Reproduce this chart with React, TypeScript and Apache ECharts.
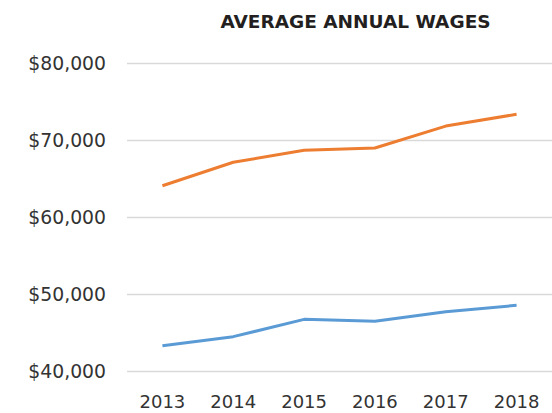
import React, { useEffect, useRef } from "react";
import * as echarts from "echarts";

const years = ["2013", "2014", "2015", "2016", "2017", "2018"];
const seriesOrange = [64150, 67200, 68750, 69050, 71900, 73430];
const seriesBlue = [43380, 44550, 46800, 46540, 47800, 48620];
const titleText = "AVERAGE ANNUAL WAGES";

export default function App() {
  const ref = useRef<HTMLDivElement>(null);
  useEffect(() => {
    document.body.style.margin = "0";
    const chart = echarts.init(ref.current!, null, { renderer: "svg" });
    const font = "'DejaVu Sans', sans-serif";
    chart.setOption({
      animation: false,
      graphic: [
        {
          type: "text",
          x: 355.5,
          y: 21.5,
          style: {
            text: titleText,
            fontFamily: font,
            fontSize: 18.5,
            fontWeight: "bold",
            fill: "#231f20",
            textAlign: "center",
            textVerticalAlign: "middle",
          },
        },
      ],
      grid: { left: 127, right: -10, top: 63.7, bottom: 41.3, containLabel: false },
      xAxis: {
        type: "category",
        data: years,
        boundaryGap: true,
        axisLine: { show: false },
        axisTick: { show: false },
        axisLabel: { fontFamily: font, fontSize: 18, color: "#333", margin: 21 },
      },
      yAxis: {
        type: "value",
        min: 40000,
        max: 80000,
        interval: 10000,
        axisLine: { show: false },
        axisTick: { show: false },
        splitLine: { lineStyle: { color: "#d9d9d9", width: 1.3 } },
        axisLabel: {
          fontFamily: font,
          fontSize: 18.8,
          color: "#333",
          margin: 21,
          formatter: (v: number) => "$" + v.toLocaleString("en-US"),
        },
      },
      series: [
        {
          type: "line",
          data: seriesOrange,
          symbol: "none",
          lineStyle: { color: "#ed7d31", width: 3 },
          itemStyle: { color: "#ed7d31" },
        },
        {
          type: "line",
          data: seriesBlue,
          symbol: "none",
          lineStyle: { color: "#5b9bd5", width: 3 },
          itemStyle: { color: "#5b9bd5" },
        },
      ],
    });
    return () => chart.dispose();
  }, []);
  return (
    <div
      ref={ref}
      style={{ position: "absolute", left: 0, top: 0, width: 552, height: 413 }}
    />
  );
}
